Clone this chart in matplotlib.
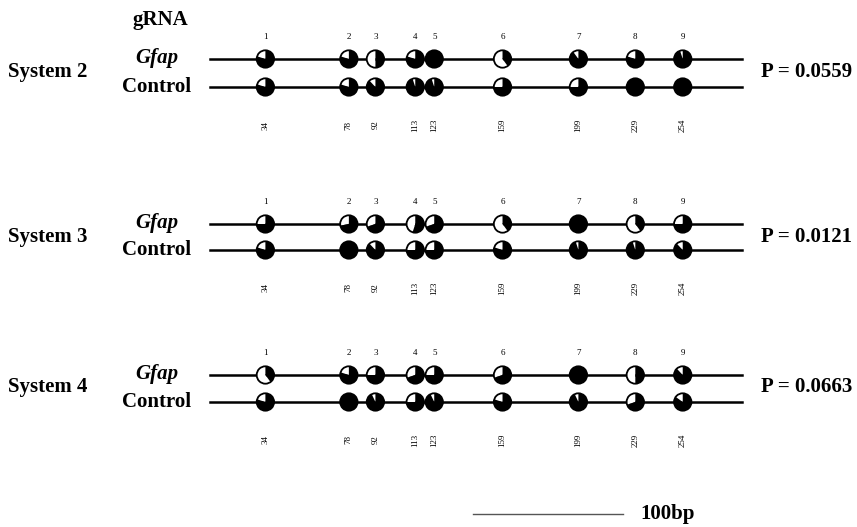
import matplotlib
matplotlib.use("Agg")
import matplotlib.pyplot as plt
from matplotlib.patches import Wedge, Circle
import matplotlib.transforms as mtransforms

# CpG sites (bp) and site numbers
cpg_bp = [34, 78, 92, 113, 123, 159, 199, 229, 254]
site_no = [1, 2, 3, 4, 5, 6, 7, 8, 9]

systems = ["System 2", "System 3", "System 4"]
p_values = ["P = 0.0559", "P = 0.0121", "P = 0.0663"]

# methylated (black) fraction per CpG
s2_gfap = [0.80, 0.80, 0.50, 0.80, 1.00, 0.40, 0.90, 0.80, 0.95]
s2_ctrl = [0.80, 0.80, 0.88, 0.95, 0.95, 0.75, 0.75, 1.00, 1.00]
s3_gfap = [0.75, 0.72, 0.70, 0.55, 0.70, 0.40, 1.00, 0.40, 0.75]
s3_ctrl = [0.80, 1.00, 0.88, 0.75, 0.75, 0.80, 0.95, 0.95, 0.88]
s4_gfap = [0.40, 0.80, 0.75, 0.70, 0.75, 0.70, 1.00, 0.50, 0.88]
s4_ctrl = [0.80, 1.00, 0.93, 0.75, 0.93, 0.80, 0.93, 0.70, 0.85]

gfap_rows = [s2_gfap, s3_gfap, s4_gfap]
ctrl_rows = [s2_ctrl, s3_ctrl, s4_ctrl]

W, H = 857, 527
fig = plt.figure(figsize=(W / 100, H / 100), dpi=100)
ax = fig.add_axes([0, 0, 1, 1])
# x in bp, y in pixels from top
px0, px_per_bp = 200.9, 1.897
ax.set_xlim(-px0 / px_per_bp, (W - px0) / px_per_bp)
ax.set_ylim(H, 0)
ax.axis("off")

serif = "Liberation Serif"
R = 0.087  # circle radius, inches
line_x0 = (210 - px0) / px_per_bp
line_x1 = (742 - px0) / px_per_bp


def draw_pie(x, y, frac):
    trans = fig.dpi_scale_trans + mtransforms.ScaledTranslation(x, y, ax.transData)
    if frac < 1:
        ax.add_patch(Wedge((0, 0), R, 90, 450 - 360 * frac, facecolor="white",
                           edgecolor="none", transform=trans, zorder=3))
    if frac > 0:
        ax.add_patch(Wedge((0, 0), R, 90 - 360 * frac, 90, facecolor="black",
                           edgecolor="none", transform=trans, zorder=3))
    ax.add_patch(Circle((0, 0), R, facecolor="none", edgecolor="black",
                        lw=1.3, transform=trans, zorder=4))


row_y = [(59, 87), (224, 250), (375, 402)]
label_y = [72, 237, 387]

fig.text(160 / W, 1 - 20 / H, "gRNA", family=serif, weight="bold", fontsize=15,
         ha="center", va="center")

for k in range(3):
    yg, yc = row_y[k]
    ax.plot([line_x0, line_x1], [yg, yg], color="black", lw=1.8, zorder=2)
    ax.plot([line_x0, line_x1], [yc, yc], color="black", lw=1.8, zorder=2)
    for i, bp in enumerate(cpg_bp):
        draw_pie(bp, yg, gfap_rows[k][i])
        draw_pie(bp, yc, ctrl_rows[k][i])
        ax.text(bp, yg - 22, str(site_no[i]), family=serif, fontsize=6.5,
                ha="center", va="center")
        ax.text(bp, yc + 38, str(bp), family=serif, fontsize=6.5, rotation=90,
                ha="center", va="center")
    fig.text(157 / W, 1 - (yg - 1) / H, "Gfap", family=serif, weight="bold",
             style="italic", fontsize=15, ha="center", va="center")
    fig.text(157 / W, 1 - yc / H, "Control", family=serif, weight="bold",
             fontsize=15, ha="center", va="center")
    fig.text(8 / W, 1 - label_y[k] / H, systems[k], family=serif, weight="bold",
             fontsize=15, ha="left", va="center")
    fig.text(852 / W, 1 - label_y[k] / H, p_values[k], family=serif, weight="bold",
             fontsize=15, ha="right", va="center")

# scale bar 100bp
fig.add_artist(plt.Line2D([473 / W, 623 / W], [1 - 514 / H, 1 - 514 / H],
                          color="#555555", lw=1.0))
fig.text(640 / W, 1 - 514 / H, "100bp", family=serif, weight="bold",
         fontsize=15, ha="left", va="center")

fig.savefig("out.png", dpi=100)
